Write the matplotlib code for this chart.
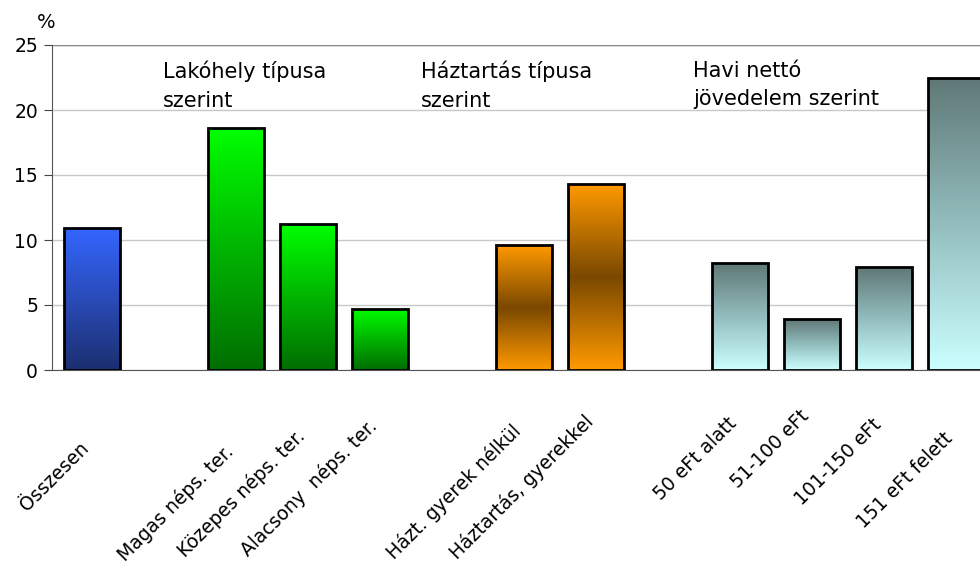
#!/usr/bin/env python3
"""
Share of respondents (%) in total and broken down by settlement type,
household type and monthly net income. Bars use vertical colour gradients.
"""
import numpy as np
import matplotlib

matplotlib.use("Agg")
import matplotlib.pyplot as plt
from matplotlib.colors import LinearSegmentedColormap

plt.rc("font", family="DejaVu Sans")

categories = [
    "Összesen",
    "Magas néps. ter.",
    "Közepes néps. ter.",
    "Alacsony  néps. ter.",
    "Házt. gyerek nélkül",
    "Háztartás, gyerekkel",
    "50 eFt alatt",
    "51-100 eFt",
    "101-150 eFt",
    "151 eFt felett",
]
values = [10.9, 18.6, 11.2, 4.7, 9.6, 14.3, 8.2, 3.9, 7.9, 22.5]
groups = [0, 1, 1, 1, 2, 2, 3, 3, 3, 3]
group_titles = ["Lakóhely típusa\nszerint", "Háztartás típusa\nszerint", "Havi nettó\njövedelem szerint"]
title_x = [0.99, 4.57, 8.35]

# gradient colours per group, listed bottom -> top
group_colors = [
    ["#1b2f70", "#2a4bb8", "#3366ff"],
    ["#006e00", "#00b400", "#00ff00"],
    ["#ff9900", "#7a4800", "#ff9900"],
    ["#ccffff", "#93bdbd", "#5f7877"],
]
# how far below the axis each rotated label sits (pixels)
label_drop = [64, 67, 52, 42, 47, 37, 39, 32, 41, 54]

fig = plt.figure(figsize=(9.8, 5.63), dpi=100)
ax = fig.add_axes([52 / 980, 193 / 563, 1 - 52 / 980, 325 / 563])

xpos = np.arange(len(values)) + np.array(groups)
width = 0.78
bars = ax.bar(xpos, values, width=width, color="none", edgecolor="black",
              linewidth=2.0, zorder=3)

grad = np.linspace(0, 1, 256).reshape(-1, 1)
for bar, g in zip(bars, groups):
    cmap = LinearSegmentedColormap.from_list(f"g{g}", group_colors[g])
    x0 = bar.get_x()
    h = bar.get_height()
    im = ax.imshow(grad, cmap=cmap, origin="lower", aspect="auto",
                   extent=[x0, x0 + width, 0, h], zorder=2, interpolation="bilinear")
    im.set_clip_path(bar)

ax.set_xlim(-0.556, 12.333)
ax.set_ylim(0, 25)
ax.set_yticks(np.arange(0, 26, 5))
ax.yaxis.grid(True, color="#c8c8c8", linewidth=1)
ax.set_axisbelow(True)
ax.tick_params(axis="y", labelsize=13.5, length=6, color="#444444", pad=4)
ax.tick_params(axis="x", length=0, labelbottom=False)

for side in ["top", "right"]:
    ax.spines[side].set_visible(False)
ax.spines["left"].set_color("#555555")
ax.spines["bottom"].set_color("#555555")
ax.axhline(25, color="#888888", linewidth=1, zorder=1)

for x, label, drop in zip(xpos, categories, label_drop):
    ax.annotate(label, xy=(x, 0), xytext=(-6, -(drop + 11)), textcoords="offset pixels",
                rotation=45, rotation_mode="anchor", ha="right", va="center",
                fontsize=13.5, annotation_clip=False)

# group headings
for x, title in zip(title_x, group_titles):
    ax.text(x, 23.8, title, ha="left", va="top", fontsize=15, linespacing=1.55)

fig.text(37 / 980, 1 - 22 / 563, "%", fontsize=14, ha="left", va="center")

fig.savefig("out.png", dpi=100)
